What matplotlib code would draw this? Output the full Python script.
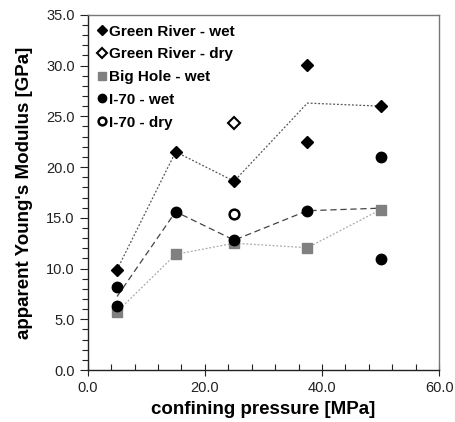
import matplotlib
matplotlib.use("Agg")
import matplotlib.pyplot as plt
from matplotlib.ticker import MultipleLocator, FormatStrFormatter
import numpy as np

plt.rcParams['font.family'] = ['Liberation Sans', 'DejaVu Sans']

# Data
gr_wet_x = [5, 15, 25, 37.5, 37.5, 50]
gr_wet_y = [9.9, 21.5, 18.6, 30.1, 22.5, 26.0]
gr_dry_x = [25]
gr_dry_y = [24.3]
bh_wet_x = [5, 15, 25, 37.5, 50]
bh_wet_y = [5.75, 11.4, 12.5, 12.05, 15.8]
i70_wet_x = [5, 5, 15, 25, 37.5, 50, 50]
i70_wet_y = [8.2, 6.3, 15.6, 12.8, 15.7, 21.0, 10.9]
i70_dry_x = [25]
i70_dry_y = [15.35]

def means(xs, ys):
    ux = sorted(set(xs))
    return ux, [np.mean([y for x, y in zip(xs, ys) if x == u]) for u in ux]

fig = plt.figure(figsize=(4.55, 4.22), dpi=100)
ax = fig.add_axes([0.193, 0.123, 0.772, 0.842])

# trend lines (means)
mx, my = means(gr_wet_x, gr_wet_y)
ax.plot(mx, my, color='#555555', lw=0.9, ls=(0, (1.5, 1.5)), zorder=2)
mx, my = means(i70_wet_x, i70_wet_y)
ax.plot(mx, my, color='#444444', lw=0.9, ls=(0, (5, 3)), zorder=2)
ax.plot(bh_wet_x, bh_wet_y, color='#aaaaaa', lw=0.9, ls=(0, (1.5, 1.5)), zorder=2)

ax.plot(gr_wet_x, gr_wet_y, 'D', color='black', ms=6, ls='none', label='Green River - wet', zorder=4)
ax.plot(gr_dry_x, gr_dry_y, 'D', mfc='white', mec='black', mew=1.5, ms=6, ls='none', label='Green River - dry', zorder=4)
ax.plot(bh_wet_x, bh_wet_y, 's', color='#808080', ms=7.5, ls='none', label='Big Hole - wet', zorder=3)
ax.plot(i70_wet_x, i70_wet_y, 'o', color='black', ms=7.5, ls='none', label='I-70 - wet', zorder=4)
ax.plot(i70_dry_x, i70_dry_y, 'o', mfc='white', mec='black', mew=1.8, ms=7, ls='none', label='I-70 - dry', zorder=4)

ax.set_xlim(0, 60)
ax.set_ylim(0, 35)
ax.xaxis.set_major_locator(MultipleLocator(20))
ax.xaxis.set_minor_locator(MultipleLocator(4))
ax.yaxis.set_major_locator(MultipleLocator(5))
ax.yaxis.set_minor_locator(MultipleLocator(1))
ax.xaxis.set_major_formatter(FormatStrFormatter('%.1f'))
ax.yaxis.set_major_formatter(FormatStrFormatter('%.1f'))

ax.tick_params(axis='x', which='major', direction='inout', length=8, width=0.8, labelsize=10.5, pad=4, colors='#222222')
ax.tick_params(axis='x', which='minor', direction='in', length=4, width=0.8, colors='#222222')
ax.tick_params(axis='y', which='major', direction='out', length=6, width=0.8, labelsize=10.5, colors='#222222')
ax.tick_params(axis='y', which='minor', direction='out', length=4, width=0.8, colors='#222222')
for lbl in ax.get_xticklabels() + ax.get_yticklabels():
    lbl.set_color('#222222')

ax.spines['left'].set_color('#222222')
ax.spines['bottom'].set_color('#222222')
ax.spines['top'].set_color('#777777')
ax.spines['right'].set_color('#777777')
for s in ax.spines.values():
    s.set_linewidth(1.0)

ax.set_xlabel('confining pressure [MPa]', fontsize=13.5, fontweight='bold', labelpad=4)
ax.set_ylabel("apparent Young's Modulus [GPa]", fontsize=13.5, fontweight='bold', labelpad=9)

leg = ax.legend(loc='upper left', frameon=False, prop={'weight': 'bold', 'size': 11},
                handlelength=0.55, handletextpad=0.2, labelspacing=0.57, borderaxespad=0.25,
                markerscale=0.8)

fig.savefig('out.png', dpi=100)
